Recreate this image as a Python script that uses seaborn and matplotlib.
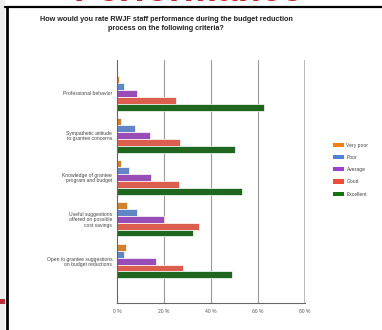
import matplotlib
matplotlib.use("Agg")
import matplotlib.pyplot as plt
import seaborn as sns
import pandas as pd
from matplotlib.patches import Rectangle
from matplotlib.lines import Line2D

categories = [
    "Professional behavior",
    "Sympathetic attitude\nto grantee concerns",
    "Knowledge of grantee\nprogram and budget",
    "Useful suggestions\noffered on possible\ncost savings",
    "Open to grantee suggestions\non budget reductions",
]
ratings = ["Very poor", "Poor", "Average", "Good", "Excellent"]
very_poor = [1.0, 1.7, 1.5, 4.4, 3.7]
poor = [3.0, 7.6, 4.9, 8.5, 3.0]
average = [8.7, 14.1, 14.4, 20.0, 16.5]
good = [25.1, 26.9, 26.2, 35.0, 27.9]
excellent = [62.6, 50.2, 53.2, 32.4, 49.0]
xticks = [0, 20, 40, 60, 80]
xticklabels = ["0 %", "20 %", "40 %", "60 %", "80 %"]
colors = ["#EE8010", "#4F82D8", "#A13BC9", "#F24B38", "#137313"]

series = [very_poor, poor, average, good, excellent]
rows = []
for r, vals in zip(ratings, series):
    for c, v in zip(categories, vals):
        rows.append({"Criteria": c, "Rating": r, "Percent": v})
df = pd.DataFrame(rows)

sns.set_style("white")
plt.rcParams["font.family"] = ["Liberation Sans", "DejaVu Sans"]

W, H = 382, 330
fig = plt.figure(figsize=(W / 100, H / 100), dpi=100)
fig.patch.set_facecolor("white")

ax = fig.add_axes([117 / W, 1 - 303 / H, (305 - 117) / W, (303 - 60) / H])
sns.barplot(data=df, y="Criteria", x="Percent", hue="Rating", order=categories,
            hue_order=ratings, palette=colors, orient="h", width=0.83,
            edgecolor="white", linewidth=0.5, legend=False, ax=ax)

ax.set_xlim(0, 80)
ax.set_ylim(4 + 1.0, -0.79)
ax.set_xticks(xticks)
ax.set_xticklabels(xticklabels, fontsize=3.6, color="#555555")
ax.tick_params(axis="y", labelsize=3.6, labelcolor="#444444", length=2.5,
               width=0.6, color="#555555", pad=1)
ax.tick_params(axis="x", length=2.5, width=0.6, color="#555555", pad=2)
for lab in ax.get_yticklabels():
    lab.set_horizontalalignment("right")
    lab.set_multialignment("right")
    lab.set_linespacing(1.1)
ax.set_xlabel("")
ax.set_ylabel("")
for x in [20, 40, 60]:
    ax.axvline(x, color="#999999", lw=0.8, zorder=0)
ax.axvline(80, color="#bbbbbb", lw=1.4, zorder=0)
for s in ["top", "right"]:
    ax.spines[s].set_visible(False)
ax.spines["left"].set_color("#666666")
ax.spines["left"].set_linewidth(0.8)
ax.spines["bottom"].set_color("#666666")
ax.spines["bottom"].set_linewidth(0.8)

handles = [Rectangle((0, 0), 1, 1, facecolor=c, edgecolor="none") for c in colors]
fig.legend(handles, ratings, loc="upper left",
           bbox_to_anchor=(328 / W, 1 - 138 / H), frameon=False,
           fontsize=3.6, handlelength=2.2, handleheight=0.9,
           labelspacing=1.45, handletextpad=0.6, labelcolor="#444444")

fig.text(166 / W, 1 - 24 / H,
         "How would you rate RWJF staff performance during the budget reduction\n"
         "process on the following criteria?",
         ha="center", va="center", fontsize=5.2, fontweight="bold",
         color="#222222", linespacing=1.5)

# slide decorations: red heading cut off at top, black frame
fig.text(188 / W, 1 - 1 / H, "Performance", ha="center", va="baseline",
         fontsize=27, fontweight="bold", color="#C3252C")
fig.patches.append(Rectangle((0, 0), 5 / W, 1, transform=fig.transFigure,
                             facecolor="#EDEDED", edgecolor="none", zorder=-1))
fig.patches.append(Rectangle((0, 1 - 304 / H), 5 / W, 5 / H,
                             transform=fig.transFigure,
                             facecolor="#B8303A", edgecolor="none", zorder=0))
fig.lines.append(Line2D([5 / W, 1], [1 - 6.5 / H, 1 - 6.5 / H],
                        transform=fig.transFigure, color="black", lw=1.6))
fig.lines.append(Line2D([7 / W, 7 / W], [0, 1 - 6.5 / H],
                        transform=fig.transFigure, color="black", lw=2.0))

fig.savefig("out.png", dpi=100)
